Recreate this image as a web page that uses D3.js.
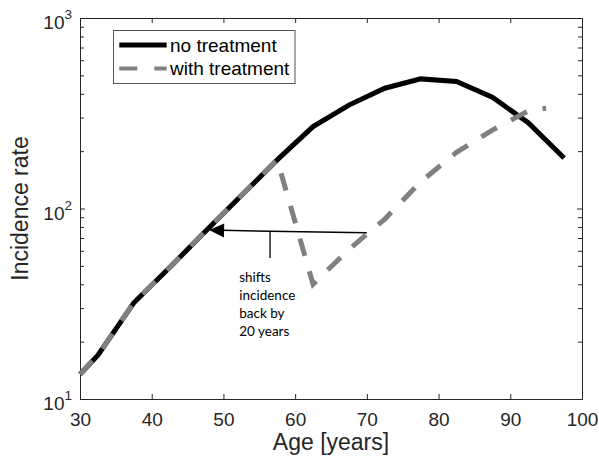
<!DOCTYPE html>
<html>
<head>
<meta charset="utf-8">
<script src="https://cdn.jsdelivr.net/npm/d3@7"></script>
<style>
    body { margin: 0; background: #fff; }
    svg { display: block; }
</style>
</head>
<body>
<script>
// DATA
var ages = [30, 32.5, 37.5, 42.5, 47.5, 52.5, 57.5, 62.5, 67.5, 72.5, 77.5, 82.5, 87.5, 92.5, 97.5];
var noTreatment = [13.5, 17, 32, 49, 76, 117, 180, 269, 349, 428, 479, 464, 384, 282, 184];

var treatAges = [30, 32.5, 37.5, 42.5, 47.5, 52.5, 57.5, 62.5, 67.5, 72.5, 77.5, 82.5, 87.5, 92.5, 95];
var withTreatment = [13.5, 17, 32, 49, 76, 117, 180, 40, 61, 88, 138, 197, 258, 325, 336];

var xTicks = [30, 40, 50, 60, 70, 80, 90, 100];
var yMajor = [10, 100, 1000];
var yExp = ["1", "2", "3"];
var yMinor = [20, 30, 40, 50, 60, 70, 80, 90, 200, 300, 400, 500, 600, 700, 800, 900];

var seriesNames = ["no treatment", "with treatment"];
var noteLines = ["shifts", "incidence", "back by", "20 years"];
// annotation arrow, in data units [age, rate]
var arrowFrom = [70, 74.5];
var arrowTo = [48, 77];
var notePoint = [52.2, 41.2];

function main() {

    var [width, height, svg, x, y, plot] = prepChart();

    drawAxes(svg, x, y, plot);

    drawLines(svg, x, y);

    drawAnnotation(svg, x, y);

    drawLegend(svg);
};

function prepChart() {
    // frame size
    var width = 599,
        height = 466;

    // plot box in pixels
    var plot = { left: 80, right: 582, top: 18, bottom: 399 };

    var svg = d3.select("body")
        .append("svg")
        .attr("width", width)
        .attr("height", height);

    var x = d3.scaleLinear()
        .domain([30, 100])
        .range([plot.left, plot.right]);

    var y = d3.scaleLog()
        .domain([10, 1000])
        .range([plot.bottom, plot.top]);

    return [width, height, svg, x, y, plot]
};

function drawAxes(svg, x, y, plot) {
    var axisColor = "#262626";
    var font = "'Liberation Sans', Arial, sans-serif";

    // bottom axis with inward ticks
    var bottom = svg.append("g")
        .attr("transform", "translate(0," + plot.bottom + ")")
        .call(d3.axisBottom(x).tickValues(xTicks).tickSize(-5).tickSizeOuter(0).tickPadding(14));
    // top axis, ticks only
    var top = svg.append("g")
        .attr("transform", "translate(0," + plot.top + ")")
        .call(d3.axisTop(x).tickValues(xTicks).tickSize(-5).tickSizeOuter(0).tickFormat(""));

    // left and right log axes (minor ticks a little shorter)
    var left = svg.append("g")
        .attr("transform", "translate(" + plot.left + ",0)")
        .call(d3.axisLeft(y).tickValues(yMajor).tickSize(-5).tickSizeOuter(0).tickFormat(""));
    var leftMinor = svg.append("g")
        .attr("transform", "translate(" + plot.left + ",0)")
        .call(d3.axisLeft(y).tickValues(yMinor).tickSize(-4).tickSizeOuter(0).tickFormat(""));
    var right = svg.append("g")
        .attr("transform", "translate(" + plot.right + ",0)")
        .call(d3.axisRight(y).tickValues(yMajor).tickSize(-5).tickSizeOuter(0).tickFormat(""));
    var rightMinor = svg.append("g")
        .attr("transform", "translate(" + plot.right + ",0)")
        .call(d3.axisRight(y).tickValues(yMinor).tickSize(-4).tickSizeOuter(0).tickFormat(""));

    [bottom, top, left, leftMinor, right, rightMinor].forEach(function (g) {
        g.selectAll("path, line").attr("stroke", axisColor);
    });

    bottom.selectAll("text")
        .attr("fill", axisColor)
        .style("font-family", font)
        .style("font-size", "19px");

    // y labels as 10 with a superscript exponent
    var ylab = svg.append("g")
        .selectAll("text")
        .data(yMajor)
        .enter()
        .append("text")
        .attr("x", plot.left - 8)
        .attr("y", function (d) { return y(d) + 11; })
        .attr("text-anchor", "end")
        .attr("fill", axisColor)
        .style("font-family", font)
        .style("font-size", "19px");
    ylab.append("tspan").text("10");
    ylab.append("tspan")
        .attr("dy", -10)
        .style("font-size", "13.5px")
        .text(function (d, i) { return yExp[i]; });

    // axis titles
    svg.append("text")
        .attr("x", (plot.left + plot.right) / 2)
        .attr("y", 450)
        .attr("text-anchor", "middle")
        .attr("fill", axisColor)
        .style("font-family", font)
        .style("font-size", "23px")
        .text("Age [years]");

    svg.append("text")
        .attr("transform", "translate(27.7," + (plot.top + plot.bottom) / 2 + ") rotate(-90)")
        .attr("text-anchor", "middle")
        .attr("fill", axisColor)
        .style("font-family", font)
        .style("font-size", "23px")
        .text("Incidence rate");
};

function drawLines(svg, x, y) {
    var line = d3.line()
        .x(function (d) { return x(d[0]); })
        .y(function (d) { return y(d[1]); });

    var noTreatPts = ages.map(function (a, i) { return [a, noTreatment[i]]; });
    var treatPts = treatAges.map(function (a, i) { return [a, withTreatment[i]]; });

    svg.append("path")
        .datum(noTreatPts)
        .attr("d", line)
        .attr("fill", "none")
        .attr("stroke", "#000")
        .attr("stroke-width", 5);

    svg.append("path")
        .datum(treatPts)
        .attr("d", line)
        .attr("fill", "none")
        .attr("stroke", "#808080")
        .attr("stroke-width", 5)
        .attr("stroke-dasharray", "18,16");
};

function drawAnnotation(svg, x, y) {
    var x1 = x(arrowFrom[0]), y1 = y(arrowFrom[1]);
    var x2 = x(arrowTo[0]), y2 = y(arrowTo[1]);
    var headLen = 15, headHalf = 7;

    // shaft
    svg.append("line")
        .attr("x1", x1).attr("y1", y1)
        .attr("x2", x2 + headLen - 2).attr("y2", y2 + (y1 - y2) * (headLen - 2) / (x1 - x2))
        .attr("stroke", "#000")
        .attr("stroke-width", 1.5);

    // arrow head
    var ang = Math.atan2(y1 - y2, x1 - x2);
    var bx = x2 + headLen * Math.cos(ang), by = y2 + headLen * Math.sin(ang);
    var px = -Math.sin(ang) * headHalf, py = Math.cos(ang) * headHalf;
    svg.append("path")
        .attr("d", "M" + x2 + "," + y2 + "L" + (bx + px) + "," + (by + py) + "L" + (bx - px) + "," + (by - py) + "Z")
        .attr("fill", "#000");

    // small vertical pointer from the arrow to the note
    var vx = x(56.5);
    svg.append("line")
        .attr("x1", vx).attr("x2", vx)
        .attr("y1", y2 + (y1 - y2) * (vx - x2) / (x1 - x2))
        .attr("y2", y(55))
        .attr("stroke", "#000")
        .attr("stroke-width", 1.3);

    svg.append("g")
        .selectAll("text")
        .data(noteLines)
        .enter()
        .append("text")
        .attr("x", x(notePoint[0]))
        .attr("y", function (d, i) { return y(notePoint[1]) + i * 17.9; })
        .attr("fill", "#000")
        .style("font-family", "Lato, 'Open Sans', sans-serif")
        .style("font-size", "13.5px")
        .text(function (d) { return d; });
};

function drawLegend(svg) {
    var font = "'Liberation Sans', Arial, sans-serif";
    var colors = ["#000", "#808080"];
    var dashes = [null, "18,17"];

    svg.append("rect")
        .attr("x", 113.5)
        .attr("y", 30.5)
        .attr("width", 181.5)
        .attr("height", 53)
        .attr("fill", "#fff")
        .attr("stroke", "#555")
        .attr("stroke-width", 1);

    var item = svg.append("g")
        .selectAll("g")
        .data(seriesNames)
        .enter()
        .append("g")
        .attr("transform", function (d, i) { return "translate(0," + (45 + i * 23.5) + ")"; });

    item.append("line")
        .attr("x1", 119.3)
        .attr("x2", 166.7)
        .attr("stroke", function (d, i) { return colors[i]; })
        .attr("stroke-width", function (d, i) { return i == 0 ? 5 : 4; })
        .attr("stroke-dasharray", function (d, i) { return dashes[i]; });

    item.append("text")
        .attr("x", 170)
        .attr("y", 6.8)
        .attr("fill", "#000")
        .style("font-family", font)
        .style("font-size", "19px")
        .text(function (d) { return d; });
};

// Start JavaScript when window loads
window.onload = main()
</script>
</body>
</html>
